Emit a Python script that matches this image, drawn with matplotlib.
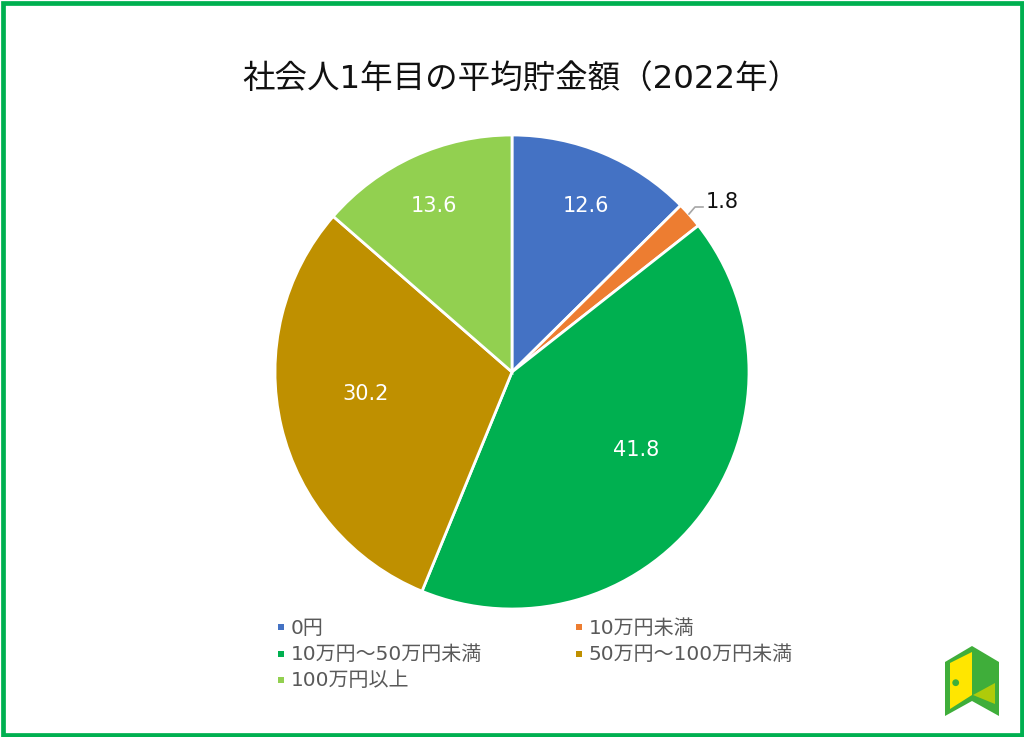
import matplotlib
matplotlib.use("Agg")
import matplotlib.pyplot as plt
from matplotlib.patches import Polygon, Rectangle, Circle

FONTS = ['DejaVu Sans', 'Noto Sans CJK JP']
plt.rcParams['font.family'] = FONTS

title = "社会人1年目の平均貯金額（2022年）"
categories = ["0円", "10万円未満", "10万円～50万円未満", "50万円～100万円未満", "100万円以上"]
values = [12.6, 1.8, 41.8, 30.2, 13.6]
colors = ["#4472C4", "#ED7D31", "#00B050", "#BF9000", "#92D050"]
W, H = 1024, 737

fig = plt.figure(figsize=(W / 100, H / 100), dpi=100, facecolor="white")

# overlay in pixel coordinates
bg = fig.add_axes([0, 0, 1, 1])
bg.set_xlim(0, W)
bg.set_ylim(H, 0)
bg.axis("off")
bg.add_patch(Rectangle((2.5, 2.5), W - 5, H - 5, fill=False, ec="#00B050", lw=3.4))
bg.text(242, 79, title, ha="left", va="center", fontsize=23.4, color="#111111")

# pie
ax = fig.add_axes([275 / W, (H - 609) / H, 474 / W, 474 / H])
wedges, _ = ax.pie(values, colors=colors, startangle=90, counterclock=False, radius=1,
                   wedgeprops=dict(edgecolor="white", linewidth=2.0))
ax.set_xlim(-1, 1)
ax.set_ylim(-1, 1)

# data labels
label_pos = [(586, 206), (722, 202), (636, 450), (366, 394), (434, 206)]
label_col = ["white", "#111111", "white", "white", "white"]
for v, (x, y), c in zip(values, label_pos, label_col):
    fig.text(x / W, 1 - y / H, f"{v:.1f}", ha="center", va="center",
             fontsize=15, color=c, zorder=10)
fig.add_artist(plt.Line2D([689 / W, 695 / W, 703 / W],
                          [1 - 214 / H, 1 - 207 / H, 1 - 207 / H],
                          color="#A6A6A6", lw=1.2))

# legend
leg_pos = [(281, 628), (579, 628), (281, 655), (579, 655), (281, 681)]
for name, c, (x, y) in zip(categories, colors, leg_pos):
    bg.add_patch(Rectangle((x - 3, y - 4), 6, 6, fc=c, ec="none"))
    bg.text(x + 9.5, y, name, ha="left", va="center", fontsize=14.4, color="#595959")

# logo
bg.add_patch(Polygon([(945, 662), (972, 646), (999, 662), (999, 716), (972, 701), (945, 716)],
                     closed=True, fc="#3FAE3A", ec="none", zorder=3))
bg.add_patch(Polygon([(950, 663), (972, 652), (972, 695), (950, 709)],
                     closed=True, fc="#FFE600", ec="none", zorder=4))
bg.add_patch(Polygon([(973, 695), (995, 683), (995, 704)],
                     closed=True, fc="#AFCB0A", ec="none", zorder=4))
bg.add_patch(Circle((955.7, 682.7), 3.4, fc="#3FAE3A", ec="none", zorder=5))

fig.savefig("out.png", dpi=100, facecolor="white")
